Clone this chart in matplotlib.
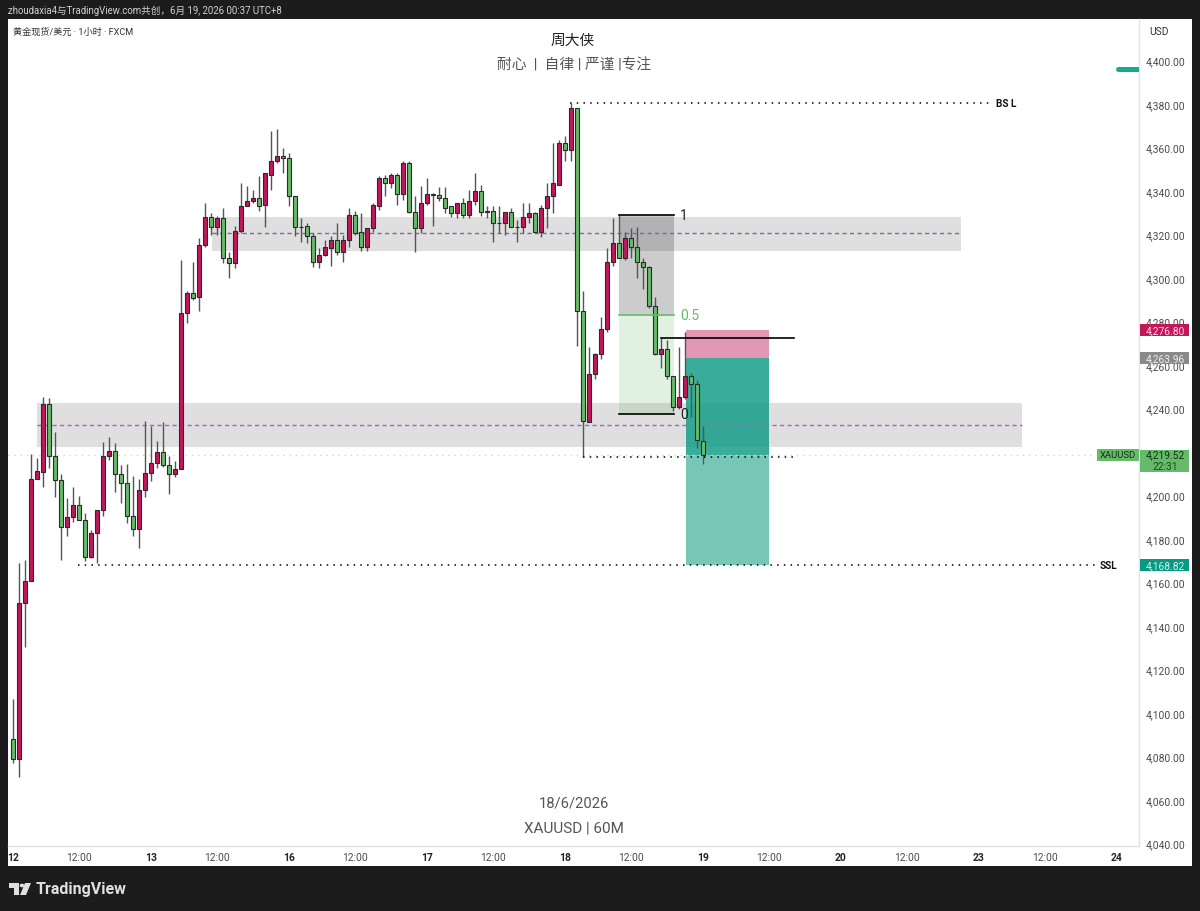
#!/usr/bin/env python3
import matplotlib
matplotlib.use("Agg")
import matplotlib.pyplot as plt
import numpy as np
from matplotlib.patches import Circle, Polygon, Rectangle
from matplotlib.transforms import ScaledTranslation

plt.rcParams["font.family"] = ["Roboto", "Noto Sans CJK SC", "DejaVu Sans"]

W, H = 1200, 912

# candles, one entry per 60M bar starting at the "12" tick
opens = [
    4089.0, 4079.8, 4151.5, 4161.2, 4208.5, 4211.7, 4243.0, 4219.1, 4208.0, 4186.4,
    4191.0, 4196.5, 4189.6, 4172.6, 4183.6, 4194.2, 4219.1, 4221.3, 4210.8, 4206.6,
    4191.4, 4185.5, 4203.4, 4211.3, 4215.9, 4220.9, 4214.9, 4210.4, 4213.0, 4284.8,
    4294.0, 4292.2, 4316.1, 4329.0, 4324.4, 4328.1, 4309.7, 4307.4, 4322.5, 4333.6,
    4335.9, 4337.7, 4334.5, 4348.3, 4354.7, 4356.6, 4356.1, 4338.6, 4324.4, 4324.8,
    4320.2, 4308.3, 4311.5, 4314.7, 4318.4, 4312.9, 4318.4, 4329.9, 4322.1, 4315.2,
    4323.5, 4334.0, 4346.5, 4344.6, 4348.3, 4339.5, 4353.8, 4331.3, 4323.5, 4335.0,
    4339.5, 4339.0, 4337.7, 4333.6, 4330.4, 4335.4, 4329.9, 4336.3, 4340.5, 4331.0,
    4331.7, 4326.2, 4326.2, 4331.3, 4324.4, 4324.4, 4329.0, 4330.8, 4322.1, 4333.1,
    4338.6, 4343.7, 4363.0, 4359.4, 4379.1, 4285.7, 4234.7, 4256.8, 4266.0, 4277.5,
    4308.3, 4317.0, 4310.1, 4319.3, 4315.2, 4307.9, 4305.9, 4288.0, 4266.0, 4268.2,
    4255.5, 4241.6, 4246.2, 4255.9, 4251.8, 4225.9,
]
highs = [
    4107.4, 4169.9, 4171.3, 4220.0, 4218.1, 4246.2, 4245.7, 4230.1, 4210.8, 4199.7,
    4204.8, 4200.6, 4192.8, 4185.0, 4194.2, 4225.5, 4227.8, 4225.0, 4214.9, 4215.4,
    4209.9, 4208.5, 4235.1, 4232.8, 4225.9, 4234.7, 4219.1, 4216.8, 4308.8, 4294.9,
    4307.9, 4319.3, 4335.0, 4330.8, 4329.4, 4332.7, 4312.9, 4324.8, 4344.6, 4342.8,
    4341.0, 4347.4, 4349.2, 4368.1, 4369.0, 4360.7, 4358.4, 4338.6, 4328.1, 4326.2,
    4321.6, 4314.7, 4318.4, 4320.2, 4325.8, 4320.7, 4332.7, 4331.7, 4330.4, 4323.9,
    4335.0, 4347.4, 4347.9, 4349.2, 4349.2, 4354.3, 4354.3, 4338.2, 4342.8, 4346.9,
    4339.7, 4342.4, 4342.4, 4334.0, 4335.4, 4337.7, 4341.4, 4349.2, 4343.7, 4333.6,
    4333.6, 4333.6, 4331.3, 4332.7, 4327.6, 4335.0, 4335.0, 4331.3, 4334.5, 4344.6,
    4363.0, 4364.4, 4366.2, 4381.4, 4379.1, 4294.9, 4269.1, 4266.4, 4283.0, 4314.7,
    4328.1, 4329.9, 4322.1, 4323.5, 4324.4, 4309.7, 4306.4, 4292.2, 4273.3, 4272.4,
    4255.5, 4269.1, 4276.1, 4257.2, 4254.0, 4232.8,
]
lows = [
    4077.9, 4071.5, 4131.3, 4161.2, 4208.5, 4204.8, 4213.5, 4200.2, 4171.3, 4182.2,
    4188.7, 4189.6, 4170.4, 4172.1, 4169.9, 4191.4, 4217.2, 4202.5, 4197.4, 4188.2,
    4182.2, 4176.7, 4200.2, 4207.5, 4213.5, 4214.0, 4201.6, 4209.4, 4213.0, 4280.2,
    4290.8, 4285.7, 4315.2, 4320.7, 4320.7, 4307.4, 4300.9, 4305.1, 4321.6, 4333.6,
    4335.4, 4331.7, 4324.4, 4341.0, 4353.8, 4349.2, 4334.0, 4320.2, 4317.5, 4316.6,
    4305.9, 4305.5, 4311.0, 4306.4, 4311.5, 4307.9, 4315.2, 4320.7, 4313.3, 4313.3,
    4322.1, 4332.2, 4338.2, 4341.9, 4334.5, 4336.8, 4330.8, 4312.9, 4321.2, 4334.5,
    4324.8, 4336.3, 4330.4, 4329.0, 4328.5, 4328.5, 4328.5, 4334.5, 4329.4, 4328.5,
    4317.5, 4321.2, 4320.7, 4324.4, 4317.5, 4321.2, 4326.2, 4321.2, 4319.8, 4323.9,
    4330.8, 4343.7, 4354.7, 4354.7, 4269.6, 4218.6, 4234.7, 4254.5, 4263.7, 4276.1,
    4306.4, 4310.1, 4308.8, 4309.7, 4300.9, 4295.9, 4287.1, 4265.5, 4259.5, 4254.5,
    4239.7, 4240.7, 4245.3, 4237.0, 4222.7, 4215.4,
]
closes = [
    4079.8, 4151.5, 4161.2, 4208.5, 4212.2, 4243.0, 4219.1, 4208.0, 4186.4, 4191.0,
    4196.5, 4189.6, 4172.6, 4183.6, 4194.2, 4219.1, 4221.3, 4210.8, 4206.6, 4191.4,
    4185.5, 4203.4, 4211.3, 4215.9, 4220.9, 4214.9, 4210.4, 4213.0, 4284.8, 4294.0,
    4291.7, 4316.1, 4329.0, 4324.4, 4328.1, 4309.7, 4307.4, 4322.5, 4334.0, 4336.3,
    4337.7, 4334.0, 4348.8, 4354.7, 4356.6, 4356.1, 4338.6, 4324.4, 4324.0, 4320.2,
    4308.3, 4311.5, 4315.2, 4318.4, 4312.9, 4318.4, 4329.9, 4321.6, 4315.2, 4323.5,
    4334.5, 4346.5, 4344.6, 4348.3, 4339.5, 4353.8, 4331.3, 4323.5, 4335.0, 4339.5,
    4339.0, 4337.7, 4333.1, 4330.4, 4335.4, 4329.9, 4336.3, 4340.5, 4331.3, 4331.5,
    4326.2, 4325.9, 4331.3, 4324.4, 4324.1, 4329.0, 4330.8, 4322.1, 4333.1, 4338.6,
    4344.2, 4363.0, 4359.4, 4379.1, 4285.7, 4235.1, 4256.8, 4266.0, 4277.5, 4308.3,
    4317.0, 4310.1, 4319.3, 4315.2, 4307.9, 4305.9, 4288.0, 4266.0, 4268.2, 4255.5,
    4241.6, 4246.2, 4255.9, 4251.8, 4226.4, 4219.52,
]

price_ticks = list(range(4040, 4401, 20))
time_ticks = [0, 11, 23, 34, 46, 57, 69, 80, 92, 103, 115, 126, 138, 149, 161, 172, 184]
time_labels = ["12", "12:00", "13", "12:00", "16", "12:00", "17", "12:00", "18", "12:00",
               "19", "12:00", "20", "12:00", "23", "12:00", "24"]

# drawing tool levels
zone_upper = (4329.0, 4313.3, 4321.2)
zone_lower = (4243.4, 4223.2, 4233.3)
fib_levels = (4329.9, 4283.9, 4238.4)
entry_price, stop_price, target_price = 4263.96, 4276.80, 4168.82
last_price = 4219.52
bsl_price = 4381.4
mid_price = 4218.6
swing_price = 4273.1
marker_price = 4397.0

PINK = "#c2185b"
GREEN = "#66bb6a"
TEAL = "#089981"
DARK = "#1c1c1c"
TEXT = "#4a4a4a"


def fx(px):
    return px / W


def fy(py):
    return 1 - py / H


def add_price_tag(ax, price, label, face, color, height=5.5):
    tr = ax.get_yaxis_transform()
    ax.add_patch(Rectangle((1 + 1 / 1131, price - height / 2), 49 / 1131, height, transform=tr,
                           facecolor=face, edgecolor="none", clip_on=False, zorder=8))
    ax.text(1 + 26 / 1131, price, label, transform=tr, ha="center", va="center",
            fontsize=7.4, color=color, clip_on=False, zorder=9)


fig = plt.figure(figsize=(W / 100, H / 100), dpi=100, facecolor=DARK)
fig.add_artist(Rectangle((fx(8), fy(867)), fx(1184), 847 / H, transform=fig.transFigure,
                         facecolor="white", edgecolor="none", zorder=-5))

ax = fig.add_axes([fx(8), fy(847), fx(1131), 827 / H], facecolor="none")
ax.set_xlim(-0.783, 187.7)
ax.set_ylim(4039.6, 4419.8)

# zones and position boxes sit below the candles
for top, bottom, mid, x0, x1, dash_color in [
    zone_upper + (33.2, 158.05, "#84659e"),
    zone_lower + (4.05, 168.2, "#a25fd6"),
]:
    ax.add_patch(Rectangle((x0, bottom), x1 - x0, top - bottom, facecolor="#808080",
                           alpha=0.25, edgecolor="none", zorder=1))
    ax.plot([x0, x1], [mid, mid], color=dash_color, lw=1.0, ls=(0, (3.0, 2.4)), zorder=2)

fib_x0, fib_x1 = 101.05, 110.2
ax.add_patch(Rectangle((fib_x0, fib_levels[1]), fib_x1 - fib_x0, fib_levels[0] - fib_levels[1],
                       facecolor="#000000", alpha=0.2, edgecolor="none", zorder=1.5))
ax.add_patch(Rectangle((fib_x0, fib_levels[2]), fib_x1 - fib_x0, fib_levels[1] - fib_levels[2],
                       facecolor=GREEN, alpha=0.2, edgecolor="none", zorder=1.5))
ax.plot([fib_x0, fib_x1], [fib_levels[0]] * 2, color="black", lw=1.2, zorder=6)
ax.plot([fib_x0, fib_x1], [fib_levels[1]] * 2, color=GREEN, lw=1.2, zorder=6)
ax.plot([fib_x0, fib_x1], [fib_levels[2]] * 2, color="black", lw=1.2, zorder=6)
ax.text(111.9, fib_levels[0], "1", ha="center", va="center", fontsize=10, color="#222222", zorder=7)
ax.text(111.2, fib_levels[1], "0.5", ha="left", va="center", fontsize=10, color=GREEN, zorder=7)
ax.text(111.9, fib_levels[2], "0", ha="center", va="center", fontsize=10, color="#222222", zorder=7)

pos_x0, pos_x1 = 112.17, 126.1
ax.add_patch(Rectangle((pos_x0, entry_price), pos_x1 - pos_x0, stop_price - entry_price,
                       facecolor=PINK, alpha=0.45, edgecolor="none", zorder=1.6))
ax.add_patch(Rectangle((pos_x0, target_price), pos_x1 - pos_x0, entry_price - target_price,
                       facecolor=TEAL, alpha=0.55, edgecolor="none", zorder=1.6))
ax.add_patch(Rectangle((pos_x0, last_price), pos_x1 - pos_x0, entry_price - last_price,
                       facecolor=TEAL, alpha=0.55, edgecolor="none", zorder=1.7))

# candles
idx = np.arange(len(opens))
opens_arr, closes_arr = np.array(opens), np.array(closes)
colors = [PINK if c >= o else GREEN for o, c in zip(opens, closes)]
ax.vlines(idx, lows, highs, color="#555555", lw=1.0, zorder=3)
ax.bar(idx, np.maximum(np.abs(closes_arr - opens_arr), 0.3), bottom=np.minimum(opens_arr, closes_arr),
       width=0.7, color=colors, edgecolor="#2a2a2a", linewidth=0.8, zorder=4)

# level lines
dots = (0, (1, 3.4))
ax.plot([-0.783, 180.6], [last_price] * 2, color="#c9dcc6", lw=1.0, ls=dots, zorder=2)
ax.plot([92.9, 163.2], [bsl_price] * 2, color="black", lw=1.1, ls=dots, zorder=6)
ax.plot([10.9, 180.6], [target_price] * 2, color="black", lw=1.1, ls=dots, zorder=6)
ax.plot([95, 130.9], [mid_price] * 2, color="black", lw=1.1, ls=dots, zorder=6)
ax.plot([108, 130.2], [swing_price] * 2, color="black", lw=1.2, zorder=6)
ax.plot([184.2, 187.7], [marker_price] * 2, color="#1aa88e", lw=3.6, solid_capstyle="round", zorder=6)
ax.text(163.9, bsl_price, "BS L", ha="left", va="center", fontsize=7.2, fontweight="bold", color="#111111")
ax.text(181.2, target_price, "SSL", ha="left", va="center", fontsize=7.2, fontweight="bold", color="#111111")

# axes
for side in ("top", "left"):
    ax.spines[side].set_visible(False)
for side in ("right", "bottom"):
    ax.spines[side].set_color("#e3e3e3")
    ax.spines[side].set_linewidth(1.0)
ax.yaxis.tick_right()
ax.set_yticks(price_ticks)
# the 4,220 label is hidden behind the last price tag
ax.set_yticklabels(["" if p == 4220 else f"{p:,.2f}" for p in price_ticks], fontsize=7.4, color=TEXT)
ax.tick_params(axis="y", length=0, pad=5)
label_shift = ScaledTranslation(0, 1.5 / 100, fig.dpi_scale_trans)
for tick in ax.get_yticklabels():
    tick.set_transform(tick.get_transform() + label_shift)
ax.set_xticks(time_ticks)
ax.set_xticklabels(time_labels, fontsize=7.4, color=TEXT)
ax.tick_params(axis="x", length=0, pad=4.5)
for tick, label in zip(ax.get_xticklabels(), time_labels):
    if ":" not in label:
        tick.set_fontweight("bold")
        tick.set_color("#222222")

# price tags on the axis
add_price_tag(ax, stop_price, "4,276.80", PINK, "#ffd9e6")
add_price_tag(ax, entry_price, "4,263.96", "#8a8a8a", "#eeeeee")
add_price_tag(ax, target_price, "4,168.82", TEAL, "#d5f2ec")
tr = ax.get_yaxis_transform()
ax.add_patch(Rectangle((1 + 1 / 1131, 4211.7), 49 / 1131, 10.1, transform=tr, facecolor=GREEN,
                       edgecolor="none", clip_on=False, zorder=8))
ax.text(1 + 26 / 1131, last_price, "4,219.52", transform=tr, ha="center", va="center",
        fontsize=7.4, color="#10300f", clip_on=False, zorder=9)
ax.text(1 + 26 / 1131, 4214.5, "22:31", transform=tr, ha="center", va="center",
        fontsize=7.4, color="#1d4a1c", clip_on=False, zorder=9)
ax.add_patch(Rectangle((180.7, last_price - 2.8), 7.0, 5.5, facecolor=GREEN, edgecolor="none", zorder=8))
ax.text(184.2, last_price, "XAUUSD", ha="center", va="center", fontsize=6.8, color="#10300f", zorder=9)

# figure text
fig.text(fx(8), fy(11), "zhoudaxia4与TradingView.com共创，6月 19, 2026 00:37 UTC+8",
         fontsize=6.9, color="#d0d0d0", va="center")
fig.text(fx(13), fy(32), "黄金现货/美元 · 1小时 · FXCM", fontsize=6.6, color="#333333", va="center")
fig.text(fx(573), fy(40.5), "周大侠", fontsize=10.6, color="#222222", ha="center", va="center")
fig.text(fx(574), fy(65.5), "耐心  |  自律 | 严谨 |专注", fontsize=10.6, color="#555555", ha="center", va="center")
fig.text(fx(574.5), fy(803), "18/6/2026", fontsize=10.6, color="#555555", ha="center", va="center")
fig.text(fx(574), fy(828), "XAUUSD | 60M", fontsize=11, color="#555555", ha="center", va="center")
fig.text(fx(1149), fy(32), "USD", fontsize=7.4, color="#333333", va="center")

# footer logo
logo = "#e0e0e0"
fig.add_artist(Polygon([(fx(9), fy(884)), (fx(19), fy(884)), (fx(19), fy(896)), (fx(14), fy(896)),
                        (fx(14), fy(889)), (fx(9), fy(889))], closed=True, facecolor=logo,
                       edgecolor="none", transform=fig.transFigure))
fig.add_artist(Polygon([(fx(25), fy(884)), (fx(31), fy(884)), (fx(26), fy(896)), (fx(20), fy(896))],
                       closed=True, facecolor=logo, edgecolor="none", transform=fig.transFigure))
fig.add_artist(Circle((fx(22), fy(886.5)), 2.4 / W, facecolor=logo, edgecolor="none", transform=fig.transFigure))
fig.text(fx(36), fy(890), "TradingView", fontsize=11.5, fontweight="bold", color=logo, va="center")

fig.savefig("out.png", dpi=100, facecolor=fig.get_facecolor())
